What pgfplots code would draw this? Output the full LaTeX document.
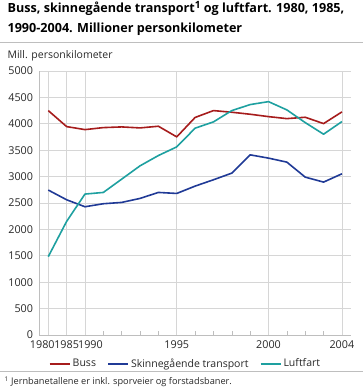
\documentclass[border=0pt]{standalone}
\usepackage{pgfplots}
\pgfplotsset{compat=1.18}
\usepackage{fontspec}
\setmainfont{Open Sans}
\definecolor{cbuss}{RGB}{166,28,28}
\definecolor{cskin}{RGB}{32,58,150}
\definecolor{cluft}{RGB}{30,160,160}
\definecolor{cgrid}{RGB}{214,214,214}
\definecolor{caxis}{RGB}{190,190,190}
\definecolor{ctext}{RGB}{40,40,40}
\begin{document}
\begin{tikzpicture}[x=1pt,y=1pt]
\path (0,0) rectangle (363,392);
\node[anchor=base west,inner sep=0pt,font=\fontsize{12.6}{15}\selectfont\bfseries] at (7,379.3) {Buss, skinnegående transport{\fontsize{10}{10}\selectfont\raisebox{4.5pt}{1}} og luftfart. 1980, 1985,};
\node[anchor=base west,inner sep=0pt,font=\fontsize{12.6}{15}\selectfont\bfseries] at (7,359.3) {1990-2004. Millioner personkilometer};
\draw[caxis,line width=0.8pt] (0,349.7) -- (363,349.7);
\node[anchor=base west,inner sep=0pt,font=\fontsize{10.5}{12}\selectfont,text=ctext] at (7,333) {Mill. personkilometer};
\draw[caxis,line width=0.8pt] (0,21) -- (363,21);
\node[anchor=base west,inner sep=0pt,font=\fontsize{9.2}{11}\selectfont,text=ctext] at (4,7) {\textsuperscript{1} Jernbanetallene er inkl. sporveier og forstadsbaner.};
\begin{axis}[
  at={(38.7pt,57pt)}, anchor=south west,
  scale only axis, width=312pt, height=264pt,
  xmin=-0.5, xmax=16.5, ymin=0, ymax=5000,
  axis x line=bottom, axis y line=left,
  axis line style={caxis,-},
  xtick={0,...,16},
  xticklabels={\makebox[0pt]{\hspace*{-12pt}1980},1985,\makebox[0pt]{\hspace*{11pt}1990},,,,,1995,,,,,2000,,,,2004},
  xtick align=inside, xtick pos=bottom,
  major tick length=4pt,
  x tick style={caxis,line width=0.6pt},
  extra x ticks={0,1,2,7,12,16},
  extra x tick labels={},
  extra x tick style={grid=major, major grid style={cgrid,line width=0.8pt}, major tick length=0pt},
  ytick={0,500,...,5000},
  y tick style={draw=none},
  ymajorgrids, major grid style={cgrid,line width=0.8pt},
  /pgf/number format/1000 sep={},
  /pgf/number format/assume math mode=true,
  tick label style={font=\fontsize{10.8}{13}\selectfont, text=ctext},
  yticklabel style={xshift=-0.5pt, inner ysep=0.5pt},
  xticklabel style={yshift=-4pt, inner ysep=1pt},
  legend columns=3,
  legend style={at={(axis description cs:0.469,-0.108)}, anchor=center, draw=none, fill=none,
     font=\fontsize{10.5}{12}\selectfont, text=ctext,
     /tikz/every even column/.append style={column sep=9pt}},
  legend image code/.code={\draw[#1,line width=2pt] (0pt,0pt) -- (20pt,0pt);},
  every axis plot/.append style={line width=1.6pt, line join=round},
]
\addplot[cbuss] coordinates {(0,4250)(1,3947)(2,3890)(3,3928)(4,3941)(5,3922)(6,3954)(7,3752)(8,4120)(9,4250)(10,4219)(11,4181)(12,4136)(13,4098)(14,4124)(15,4004)(16,4225)};
\addlegendentry{Buss}
\addplot[cskin] coordinates {(0,2745)(1,2561)(2,2429)(3,2486)(4,2511)(5,2587)(6,2700)(7,2681)(8,2820)(9,2940)(10,3066)(11,3412)(12,3350)(13,3274)(14,2990)(15,2896)(16,3053)};
\addlegendentry{Skinnegående transport}
\addplot[cluft] coordinates {(0,1484)(1,2152)(2,2669)(3,2700)(4,2952)(5,3204)(6,3399)(7,3563)(8,3917)(9,4036)(10,4250)(11,4364)(12,4420)(13,4263)(14,4023)(15,3803)(16,4042)};
\addlegendentry{Luftfart}
\end{axis}
\end{tikzpicture}
\end{document}
